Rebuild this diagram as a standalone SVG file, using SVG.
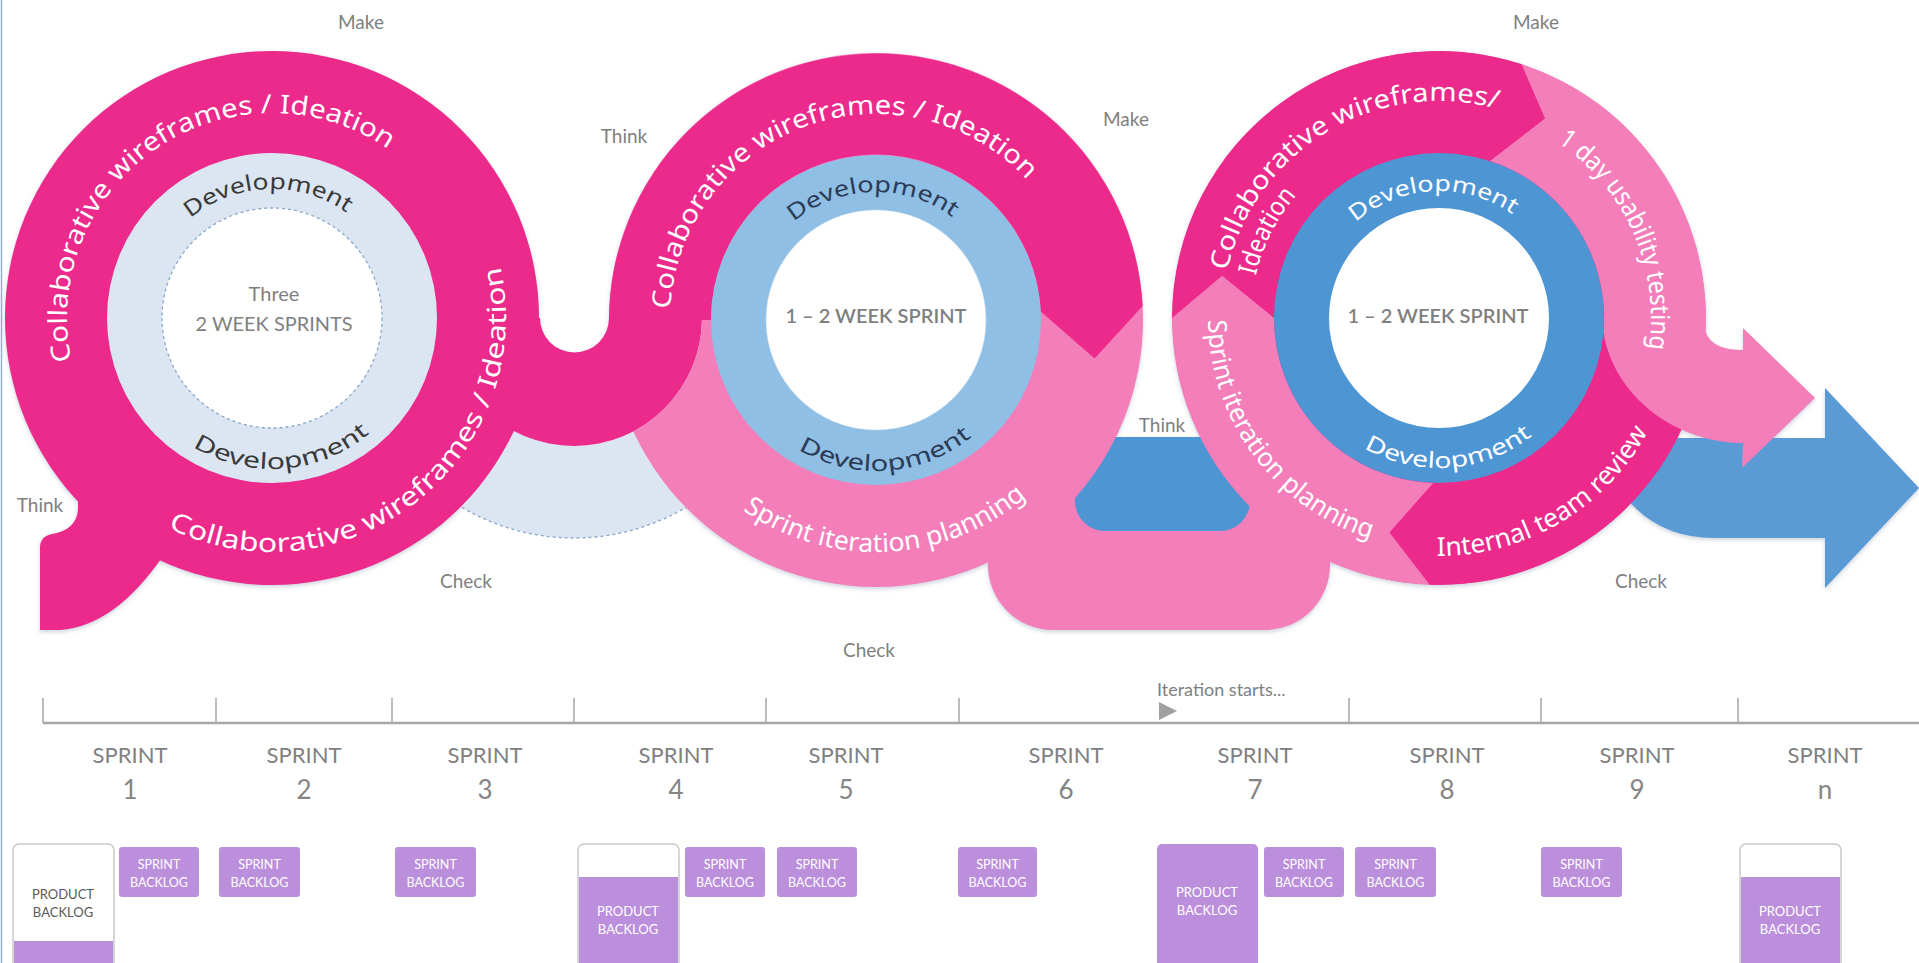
<svg xmlns="http://www.w3.org/2000/svg" width="1919" height="963" viewBox="0 0 1919 963">
<style>
.dp{fill:#eb2a8c}
.lp{fill:#f37eba}
.rt{font-family:"Noto Sans","Liberation Sans",sans-serif;fill:#fff;font-size:26px}
.dev{font-family:"Noto Sans","Liberation Sans",sans-serif;font-size:22px}
.lbl{font-family:Lato,"Liberation Sans",sans-serif;fill:#808080;font-size:19px;text-anchor:middle}
.ctr{font-family:Lato,"Liberation Sans",sans-serif;fill:#7f7f7f;text-anchor:middle;font-size:20px}
.spr{font-family:Lato,"Liberation Sans",sans-serif;fill:#808080;text-anchor:middle;font-size:22px}
.num{font-family:Lato,"Liberation Sans",sans-serif;fill:#858585;text-anchor:middle;font-size:26px}
.tick{stroke:#a6a6a6;stroke-width:1.5}
.pu{fill:#bb8fdc}
.bt{font-family:Lato,"Liberation Sans",sans-serif;fill:#fff;font-size:12.5px;text-anchor:middle}
.pbt{font-family:Lato,"Liberation Sans",sans-serif;font-size:13px;text-anchor:middle}
</style>
<defs>
<filter id="shOnly" x="0" y="0" width="1919" height="963" filterUnits="userSpaceOnUse">
<feGaussianBlur in="SourceAlpha" stdDeviation="2"/>
<feOffset dx="0" dy="2" result="b"/>
<feFlood flood-color="#5a6f8f" flood-opacity="0.3"/>
<feComposite in2="b" operator="in"/>
</filter>
<path id="u1" d="M 446 318 A 128 128 0 0 0 702 318 L 609 318 A 34.5 34.5 0 0 1 540 318 Z"/>
<path id="u2" d="M 988 480 H 1330 V 565 A 65 65 0 0 1 1265 630 H 1053 A 65 65 0 0 1 988 565 Z"/>
<path id="bband" d="M 1075 437 H 1250 V 501 A 30 30 0 0 1 1220 531 H 1105 A 30 30 0 0 1 1075 501 Z"/>
<path id="barrow" d="M 1600 438 H 1825 V 388 L 1919 488 L 1825 588 V 538 H 1715 Q 1660 538 1628 500 Z"/>
<path id="tail" d="M 40 630 L 40 548 Q 40 536 52 534 Q 76 530 78 510 L 78 496 L 140 470 L 163 556 Q 115 626 60 630 Z"/>
<path id="parrow" d="M 1490 161.1 L 1545 118.5 L 1521.5 64.1 A 267 267 0 0 1 1705.6 332 Q 1712 350 1743 350 L 1743 328 L 1815 398 L 1742 468 L 1743 443 C 1680 443 1615 400 1603.4 332.4 A 165 165 0 0 0 1490 161.1 Z"/>
<mask id="mU1" maskUnits="userSpaceOnUse" x="0" y="0" width="1919" height="963">
<rect width="1919" height="963" fill="#fff"/>
<use href="#u1" fill="#000"/>
</mask>
<path id="p1t" d="M 71.5 360.6 A 205 205 0 0 1 392.5 152.2"/>
<path id="p1b" d="M 168 527.6 A 234 234 0 0 0 499.3 262.6"/>
<path id="p1dt" d="M 190.3 218.2 A 129 129 0 0 1 347.6 213.5"/>
<path id="p1db" d="M 192.9 446.6 A 151 151 0 0 0 370.7 432.3"/>
<path id="p2t" d="M 670.3 309.2 A 206 206 0 0 1 1029.1 182.2"/>
<path id="p2dt" d="M 793.9 221.8 A 128 128 0 0 1 953.9 218.4"/>
<path id="p2db" d="M 798.2 449.4 A 151 151 0 0 0 972.9 435.8"/>
<path id="p2s" d="M 742.9 510.1 A 232 232 0 0 0 1028.2 495.1"/>
<path id="p3a" d="M 1227.1 271 A 217 217 0 0 1 1500.6 109.9"/>
<path id="p3b" d="M 1255.8 275.7 A 188 188 0 0 1 1297.1 194.7"/>
<path id="p3u" d="M 1557.5 142.3 A 212 212 0 0 1 1648.4 351.2"/>
<path id="p3dt" d="M 1355.7 222.2 A 127 127 0 0 1 1513.7 215.3"/>
<path id="p3db" d="M 1364 447.9 A 150 150 0 0 0 1533.4 434.6"/>
<path id="p3s" d="M 1208 320 A 231 231 0 0 0 1373.4 539.5"/>
<path id="p3i" d="M 1436.9 556 A 238 238 0 0 0 1649.1 429.7"/>
</defs>

<rect width="1919" height="963" fill="#fff"/>
<line x1="1.5" y1="0" x2="1.5" y2="963" stroke="#8fb0d8" stroke-width="1.5"/>

<g id="shadows" filter="url(#shOnly)">
  <circle cx="272" cy="318" r="267"/>
  <circle cx="876" cy="320" r="267"/>
  <circle cx="1439" cy="318" r="267"/>
  <use href="#tail"/>
  <use href="#u1"/>
  <use href="#u2"/>
  <use href="#bband"/>
  <use href="#barrow"/>
  <use href="#parrow"/>
</g>

<g id="connectors">
  <path id="lens" d="M 354 318 A 220 220 0 0 0 794 318 L 609 318 A 34.5 34.5 0 0 1 540 318 Z" fill="#dce6f2"/>
  <path d="M 354 318 A 220 220 0 0 0 794 318" fill="none" stroke="#8aa6c8" stroke-width="1.3" stroke-dasharray="3 3"/>
  <use id="link-1-2" href="#u1" class="dp"/>
  <use id="link-2-3" href="#u2" class="lp"/>
  <use id="blue-band" href="#bband" fill="#4e95d4"/>
  <use id="blue-arrow" href="#barrow" fill="#5a9bd6"/>
</g>

<g id="circle1">
  <circle cx="272" cy="318" r="267" class="dp"/>
  <use href="#tail" class="dp"/>
  <circle cx="272" cy="318" r="165" fill="#dce6f2"/>
  <circle cx="272" cy="318" r="110" fill="#fff" stroke="#8aa6c8" stroke-width="1.3" stroke-dasharray="3 3"/>
  <text class="rt"><textPath href="#p1t" textLength="488" lengthAdjust="spacingAndGlyphs">Collaborative wireframes / Ideation</textPath></text>
  <text class="rt"><textPath href="#p1b" textLength="527" lengthAdjust="spacingAndGlyphs">Collaborative wireframes / Ideation</textPath></text>
  <text class="dev" fill="#3a3a3a"><textPath href="#p1dt" textLength="168" lengthAdjust="spacingAndGlyphs">Development</textPath></text>
  <text class="dev" fill="#3a3a3a"><textPath href="#p1db" textLength="189" lengthAdjust="spacingAndGlyphs">Development</textPath></text>
  <text class="ctr" x="274" y="301" font-size="19">Three</text>
  <text class="ctr" x="274" y="331" font-size="19" textLength="157" lengthAdjust="spacingAndGlyphs">2 WEEK SPRINTS</text>
</g>

<g id="circle2">
  <circle cx="876" cy="320" r="267" class="lp" mask="url(#mU1)"/>
  <path class="dp" d="M 609 320 A 267 267 0 0 1 1142.6 306 L 1094.6 358.5 L 1040.8 311.4 A 165 165 0 0 0 711 320 Z"/>
  <circle cx="876" cy="320" r="165" fill="#8fbfe5"/>
  <circle cx="876" cy="320" r="110" fill="#fff" stroke="#c5dcf0" stroke-width="1" stroke-dasharray="1.5 1.5"/>
  <text class="rt"><textPath href="#p2t" textLength="482" lengthAdjust="spacingAndGlyphs">Collaborative wireframes / Ideation</textPath></text>
  <text class="dev" fill="#2c3b56"><textPath href="#p2dt" textLength="171" lengthAdjust="spacingAndGlyphs">Development</textPath></text>
  <text class="dev" fill="#2c3b56"><textPath href="#p2db" textLength="185" lengthAdjust="spacingAndGlyphs">Development</textPath></text>
  <text class="rt" font-size="25"><textPath href="#p2s" textLength="305" lengthAdjust="spacingAndGlyphs">Sprint iteration planning</textPath></text>
  <text class="ctr" x="876" y="323" font-weight="600" textLength="181" lengthAdjust="spacingAndGlyphs">1 – 2 WEEK SPRINT</text>
</g>

<g id="circle3">
  <circle cx="1439" cy="318" r="266.5" class="dp"/>
  <path class="dp" d="M 1172 318 A 267 267 0 0 1 1521.5 64.1 L 1545 118.5 L 1490 161.1 A 165 165 0 0 0 1274 318 Z"/>
  <path class="lp" d="M 1429.7 584.8 A 267 267 0 0 1 1172 318 L 1222.1 275.8 L 1274 318 A 165 165 0 0 0 1433.2 482.9 Z"/>
  <path class="dp" d="M 1705 341.3 A 267 267 0 0 1 1429.7 584.8 L 1389.5 532.4 L 1433.2 482.9 A 165 165 0 0 0 1603.4 332.4 Z"/>
  <use href="#parrow" class="lp"/>
  <circle cx="1439" cy="318" r="165" fill="#4e95d4"/>
  <circle cx="1439" cy="318" r="110" fill="#fff"/>
  <text class="rt" font-size="25"><textPath href="#p3a" textLength="352" lengthAdjust="spacingAndGlyphs">Collaborative wireframes/</textPath></text>
  <text class="rt" font-size="25"><textPath href="#p3b" textLength="91" lengthAdjust="spacingAndGlyphs">Ideation</textPath></text>
  <text class="rt" font-size="22"><textPath href="#p3u" textLength="238" lengthAdjust="spacingAndGlyphs">1 day usability testing</textPath></text>
  <text class="dev" fill="#fff"><textPath href="#p3dt" textLength="169" lengthAdjust="spacingAndGlyphs">Development</textPath></text>
  <text class="dev" fill="#fff"><textPath href="#p3db" textLength="179" lengthAdjust="spacingAndGlyphs">Development</textPath></text>
  <text class="rt" font-size="25"><textPath href="#p3s" textLength="291" lengthAdjust="spacingAndGlyphs">Sprint iteration planning</textPath></text>
  <text class="rt" font-size="25"><textPath href="#p3i" textLength="257" lengthAdjust="spacingAndGlyphs">Internal team review</textPath></text>
  <text class="ctr" x="1438" y="323" font-weight="600" textLength="181" lengthAdjust="spacingAndGlyphs">1 – 2 WEEK SPRINT</text>
</g>

<g id="phase-labels">
  <text class="lbl" x="361" y="29">Make</text>
  <text class="lbl" x="624" y="143">Think</text>
  <text class="lbl" x="1126" y="126">Make</text>
  <text class="lbl" x="1536" y="29">Make</text>
  <text class="lbl" x="40" y="512">Think</text>
  <text class="lbl" x="466" y="588">Check</text>
  <text class="lbl" x="869" y="657">Check</text>
  <text class="lbl" x="1162" y="432">Think</text>
  <text class="lbl" x="1641" y="588">Check</text>
</g>

<g id="timeline">
  <line x1="43" y1="723" x2="1919" y2="723" stroke="#a6a6a6" stroke-width="2.5"/>
  <line class="tick" x1="43" y1="698" x2="43" y2="723"/>
  <line class="tick" x1="216" y1="698" x2="216" y2="723"/>
  <line class="tick" x1="392" y1="698" x2="392" y2="723"/>
  <line class="tick" x1="574" y1="698" x2="574" y2="723"/>
  <line class="tick" x1="766" y1="698" x2="766" y2="723"/>
  <line class="tick" x1="959" y1="698" x2="959" y2="723"/>
  <line class="tick" x1="1349" y1="698" x2="1349" y2="723"/>
  <line class="tick" x1="1541" y1="698" x2="1541" y2="723"/>
  <line class="tick" x1="1738" y1="698" x2="1738" y2="723"/>
  <polygon points="1159,702 1177,711 1159,720" fill="#a0a0a0"/>
  <text x="1157" y="696" font-family="Lato, 'Liberation Sans', sans-serif" font-size="18" fill="#7f7f7f">Iteration starts...</text>
</g>

<g id="sprints">
  <text class="spr" x="130" y="763">SPRINT</text><text class="num" x="130" y="799">1</text>
  <text class="spr" x="304" y="763">SPRINT</text><text class="num" x="304" y="799">2</text>
  <text class="spr" x="485" y="763">SPRINT</text><text class="num" x="485" y="799">3</text>
  <text class="spr" x="676" y="763">SPRINT</text><text class="num" x="676" y="799">4</text>
  <text class="spr" x="846" y="763">SPRINT</text><text class="num" x="846" y="799">5</text>
  <text class="spr" x="1066" y="763">SPRINT</text><text class="num" x="1066" y="799">6</text>
  <text class="spr" x="1255" y="763">SPRINT</text><text class="num" x="1255" y="799">7</text>
  <text class="spr" x="1447" y="763">SPRINT</text><text class="num" x="1447" y="799">8</text>
  <text class="spr" x="1637" y="763">SPRINT</text><text class="num" x="1637" y="799">9</text>
  <text class="spr" x="1825" y="763">SPRINT</text><text class="num" x="1825" y="799">n</text>
</g>

<g id="backlogs">
  <g id="pb1">
    <rect x="13" y="844" width="101" height="130" rx="6" fill="#fff" stroke="#c9c9c9" stroke-width="1.5"/>
    <rect x="14" y="941" width="99" height="30" class="pu"/>
    <text class="pbt" x="63" y="899" fill="#5a5a5a">PRODUCT</text>
    <text class="pbt" x="63" y="917" fill="#5a5a5a">BACKLOG</text>
  </g>
  <g id="pb4">
    <rect x="578" y="844" width="101" height="130" rx="6" fill="#fff" stroke="#c9c9c9" stroke-width="1.5"/>
    <rect x="579" y="877" width="99" height="95" class="pu"/>
    <text class="pbt" x="628" y="916" fill="#fff">PRODUCT</text>
    <text class="pbt" x="628" y="934" fill="#fff">BACKLOG</text>
  </g>
  <g id="pb7">
    <rect x="1157" y="844" width="101" height="130" rx="5" class="pu"/>
    <text class="pbt" x="1207" y="897" fill="#fff">PRODUCT</text>
    <text class="pbt" x="1207" y="915" fill="#fff">BACKLOG</text>
  </g>
  <g id="pbn">
    <rect x="1740" y="844" width="101" height="130" rx="6" fill="#fff" stroke="#c9c9c9" stroke-width="1.5"/>
    <rect x="1741" y="877" width="99" height="95" class="pu"/>
    <text class="pbt" x="1790" y="916" fill="#fff">PRODUCT</text>
    <text class="pbt" x="1790" y="934" fill="#fff">BACKLOG</text>
  </g>
  <g id="sb1"><rect x="119" y="847" width="80" height="50" rx="3" class="pu"/><text class="bt" x="159" y="869">SPRINT</text><text class="bt" x="159" y="887">BACKLOG</text></g>
  <g id="sb2"><rect x="219" y="847" width="81" height="50" rx="3" class="pu"/><text class="bt" x="259.5" y="869">SPRINT</text><text class="bt" x="259.5" y="887">BACKLOG</text></g>
  <g id="sb3"><rect x="395" y="847" width="81" height="50" rx="3" class="pu"/><text class="bt" x="435.5" y="869">SPRINT</text><text class="bt" x="435.5" y="887">BACKLOG</text></g>
  <g id="sb4"><rect x="685" y="847" width="80" height="50" rx="3" class="pu"/><text class="bt" x="725" y="869">SPRINT</text><text class="bt" x="725" y="887">BACKLOG</text></g>
  <g id="sb5"><rect x="777" y="847" width="80" height="50" rx="3" class="pu"/><text class="bt" x="817" y="869">SPRINT</text><text class="bt" x="817" y="887">BACKLOG</text></g>
  <g id="sb6"><rect x="958" y="847" width="79" height="50" rx="3" class="pu"/><text class="bt" x="997.5" y="869">SPRINT</text><text class="bt" x="997.5" y="887">BACKLOG</text></g>
  <g id="sb7"><rect x="1264" y="847" width="80" height="50" rx="3" class="pu"/><text class="bt" x="1304" y="869">SPRINT</text><text class="bt" x="1304" y="887">BACKLOG</text></g>
  <g id="sb8"><rect x="1355" y="847" width="81" height="50" rx="3" class="pu"/><text class="bt" x="1395.5" y="869">SPRINT</text><text class="bt" x="1395.5" y="887">BACKLOG</text></g>
  <g id="sb9"><rect x="1541" y="847" width="81" height="50" rx="3" class="pu"/><text class="bt" x="1581.5" y="869">SPRINT</text><text class="bt" x="1581.5" y="887">BACKLOG</text></g>
</g>
</svg>
